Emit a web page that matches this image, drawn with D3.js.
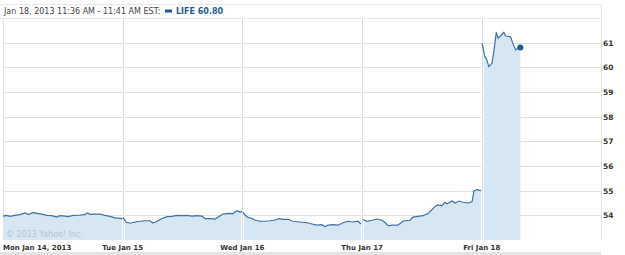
<!DOCTYPE html>
<html>
<head>
<meta charset="utf-8">
<script src="https://cdn.jsdelivr.net/npm/d3@7"></script>
<style>
body { margin: 0; background: #fff; }
text { font-family: "DejaVu Sans", Verdana, sans-serif; }
</style>
</head>
<body>
<svg width="625" height="255"></svg>
<script>
// day labels and price ticks
var dayLabels = ["Mon Jan 14, 2013", "Tue Jan 15", "Wed Jan 16", "Thu Jan 17", "Fri Jan 18"];
var priceTicks = [54, 55, 56, 57, 58, 59, 60, 61];

// [day offset, price] points, one array per session
var monData = [[0.000,53.97],[0.031,54.0],[0.058,53.96],[0.100,54.0],[0.142,54.03],[0.184,54.1],[0.211,54.03],[0.253,54.12],[0.282,54.08],[0.323,54.05],[0.365,54.0],[0.407,53.99],[0.449,53.93],[0.476,53.99],[0.518,53.97],[0.546,53.95],[0.587,54.0],[0.643,54.01],[0.685,54.03],[0.704,54.1],[0.727,54.04],[0.769,54.05],[0.810,54.05],[0.852,54.0],[0.894,53.96],[0.936,53.9],[0.977,53.88],[0.998,53.87]];
var tueData = [[1.003,53.92],[1.028,53.73],[1.061,53.68],[1.103,53.73],[1.145,53.76],[1.186,53.78],[1.228,53.78],[1.253,53.69],[1.287,53.76],[1.328,53.87],[1.370,53.95],[1.412,53.96],[1.454,54.0],[1.495,53.99],[1.537,54.0],[1.579,53.97],[1.621,53.99],[1.662,53.97],[1.688,53.87],[1.729,53.87],[1.771,53.85],[1.796,53.92],[1.838,54.05],[1.880,54.08],[1.921,54.07],[1.955,54.19],[1.980,54.13],[1.997,54.16]];
var wedData = [[2.005,54.13],[2.022,54.0],[2.047,53.92],[2.080,53.87],[2.105,53.81],[2.147,53.76],[2.189,53.76],[2.231,53.78],[2.272,53.81],[2.306,53.87],[2.339,53.84],[2.381,53.84],[2.423,53.76],[2.481,53.73],[2.540,53.7],[2.581,53.65],[2.623,53.6],[2.665,53.62],[2.690,53.54],[2.715,53.6],[2.757,53.62],[2.799,53.6],[2.840,53.7],[2.882,53.76],[2.924,53.73],[2.966,53.76],[2.991,53.65]];
var thuData = [[3.008,53.83],[3.041,53.76],[3.083,53.8],[3.125,53.85],[3.166,53.8],[3.191,53.72],[3.216,53.58],[3.258,53.6],[3.300,53.6],[3.342,53.77],[3.400,53.8],[3.425,53.93],[3.467,53.96],[3.509,53.99],[3.551,54.07],[3.584,54.23],[3.609,54.36],[3.634,54.42],[3.668,54.39],[3.693,54.53],[3.709,54.47],[3.751,54.58],[3.776,54.5],[3.810,54.58],[3.843,54.53],[3.885,54.5],[3.918,54.55],[3.935,54.99],[3.960,55.04],[3.993,55.0]];
var friData = [[4.002,60.98],[4.025,60.43],[4.038,60.37],[4.058,60.03],[4.085,60.17],[4.102,60.7],[4.121,61.42],[4.135,61.18],[4.158,61.28],[4.184,61.42],[4.198,61.27],[4.240,61.24],[4.265,60.9],[4.284,60.7],[4.298,60.77],[4.322,60.8]];

var svg = d3.select("svg");

var plotLeft = 3, plotRight = 601, plotTop = 18, plotBottom = 240;

var x = d3.scaleLinear().domain([0, 5]).range([plotLeft, plotLeft + 5 * 119.7]);
var y = d3.scaleLinear().domain([53, 62]).range([plotBottom, plotTop]);

// header
svg.append("line").attr("x1", 0).attr("x2", plotRight).attr("y1", 4.5).attr("y2", 4.5)
	.attr("stroke", "#e3e8ec");
svg.append("line").attr("x1", 0).attr("x2", plotRight).attr("y1", plotTop + 0.5).attr("y2", plotTop + 0.5)
	.attr("stroke", "#dde4ea");
svg.append("line").attr("x1", plotRight + 0.5).attr("x2", plotRight + 0.5).attr("y1", 4).attr("y2", plotBottom)
	.attr("stroke", "#dde4ea");

svg.append("text").attr("x", 4).attr("y", 14)
	.attr("font-size", 8).attr("fill", "#444")
	.text("Jan 18, 2013 11:36 AM - 11:41 AM EST:");
svg.append("rect").attr("x", 165).attr("y", 9.5).attr("width", 7).attr("height", 3)
	.attr("fill", "#1f5a94");
svg.append("text").attr("x", 176).attr("y", 14)
	.attr("font-size", 8).attr("font-weight", "bold").attr("fill", "#1f5a94")
	.text("LIFE 60.80");

// horizontal grid
svg.append("g").selectAll("line")
	.data(priceTicks)
	.enter().append("line")
	.attr("x1", plotLeft).attr("x2", plotRight)
	.attr("y1", function(d) { return Math.round(y(d)) + 0.5; })
	.attr("y2", function(d) { return Math.round(y(d)) + 0.5; })
	.attr("stroke", "#dbe3ea");

// area + line, one piece per session
var area = d3.area()
	.x(function(d) { return x(d[0]); })
	.y0(plotBottom)
	.y1(function(d) { return y(d[1]); });

var line = d3.line()
	.x(function(d) { return x(d[0]); })
	.y(function(d) { return y(d[1]); });

var sessions = [monData, tueData, wedData, thuData, friData];

svg.append("g").selectAll("path")
	.data(sessions)
	.enter().append("path")
	.attr("d", area)
	.attr("fill", "#d6e6f2");

// vertical day lines
svg.append("g").selectAll("line")
	.data(d3.range(dayLabels.length))
	.enter().append("line")
	.attr("x1", function(d) { return Math.round(x(d)) + 0.5; })
	.attr("x2", function(d) { return Math.round(x(d)) + 0.5; })
	.attr("y1", plotTop).attr("y2", plotBottom)
	.attr("stroke", function(d) { return d == 0 ? "#dbe3ea" : "#fff"; })
	.attr("stroke-width", function(d) { return d == 0 ? 1 : 2.5; });
svg.append("g").selectAll("line")
	.data(d3.range(1, dayLabels.length))
	.enter().append("line")
	.attr("x1", function(d) { return Math.round(x(d)) + 0.5; })
	.attr("x2", function(d) { return Math.round(x(d)) + 0.5; })
	.attr("y1", plotTop).attr("y2", plotBottom)
	.attr("stroke", "#d3dfea");

svg.append("g").selectAll("path")
	.data(sessions)
	.enter().append("path")
	.attr("d", line)
	.attr("fill", "none")
	.attr("stroke", "#3f71a6")
	.attr("stroke-width", 1.2);

var last = friData[friData.length - 1];
svg.append("circle")
	.attr("cx", x(last[0])).attr("cy", y(last[1])).attr("r", 3)
	.attr("fill", "#1f5a94");

// copyright
svg.append("text").attr("x", 6).attr("y", 237)
	.attr("font-size", 8).attr("fill", "#b8c4ce")
	.text("\u00a9 2013 Yahoo! Inc.");

// x labels
svg.append("g").selectAll("text")
	.data(dayLabels)
	.enter().append("text")
	.attr("x", function(d, i) { return i == 0 ? plotLeft : x(i); })
	.attr("y", 250)
	.attr("text-anchor", function(d, i) { return i == 0 ? "start" : "middle"; })
	.attr("font-size", 7).attr("font-weight", "bold").attr("fill", "#333")
	.text(function(d) { return d; });

// y labels
svg.append("g").selectAll("text")
	.data(priceTicks)
	.enter().append("text")
	.attr("x", 603)
	.attr("y", function(d) { return y(d) + 3; })
	.attr("font-size", 7.5).attr("font-weight", "bold").attr("fill", "#333")
	.text(function(d) { return d; });

// bottom bar
svg.append("rect").attr("x", 0).attr("y", 252).attr("width", plotRight).attr("height", 3)
	.attr("fill", "#e4e4e4");
</script>
</body>
</html>
